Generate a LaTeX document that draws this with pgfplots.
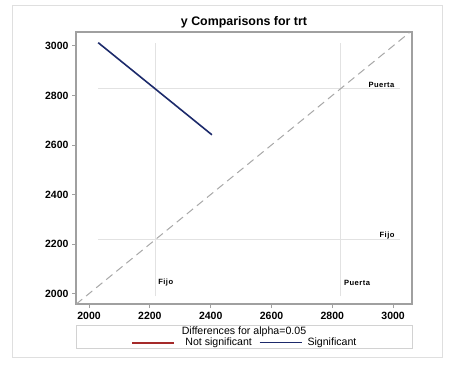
\documentclass[border=0pt]{standalone}
\usepackage{pgfplots}
\pgfplotsset{compat=1.18}
\usepackage{fontspec}
\setmainfont{Liberation Sans}
\definecolor{sigblue}{HTML}{1C2A6B}
\definecolor{nsred}{HTML}{A52A2A}
\definecolor{refgray}{HTML}{E2E2E2}
\definecolor{diaggray}{HTML}{A8A8A8}
\definecolor{framegray}{HTML}{A0A0A0}
\newcommand{\lblfont}{\bfseries\fontsize{7.6}{9}\selectfont\addfontfeatures{LetterSpace=6}}
\begin{document}
\begin{tikzpicture}[x=1pt,y=1pt]
\path[fill=white] (0,0) rectangle (450,365);
\draw[color=gray!25, line width=1pt] (12,8) rectangle (442,359);
\begin{axis}[
  at={(76pt,61pt)}, anchor=south west,
  width=336pt, height=272pt, scale only axis,
  xmin=1957, xmax=3062, ymin=1958, ymax=3056,
  xtick={2000,2200,...,3000}, ytick={2000,2200,...,3000},
  tick align=outside, major tick length=4pt,
  tick style={framegray, line width=0.8pt},
  axis line style={framegray, line width=1.4pt},
  xtick pos=bottom, ytick pos=left,
  /pgf/number format/.cd, 1000 sep={}, assume math mode=true,
  /pgfplots/.cd,
  tick label style={font=\bfseries\fontsize{10.5}{12}\selectfont},
  xticklabel style={yshift=-1pt},
  clip=false,
  legend style={at={(0.5,-0.142)}, anchor=center, draw=none, fill=none,
    legend columns=2, font=\fontsize{10.6}{12}\selectfont,
    /tikz/column 1/.style={column sep=5pt},
    /tikz/column 2/.style={column sep=7pt},
    /tikz/column 3/.style={column sep=5pt},
    nodes={inner xsep=0pt, inner ysep=0pt}},
  legend image code/.code={\draw[#1] (0pt,0pt) -- (42pt,0pt);},
]
% reference lines
\addplot[refgray, line width=0.8pt, forget plot] coordinates {(2217,1990) (2217,3012)};
\addplot[refgray, line width=0.8pt, forget plot] coordinates {(2828,1990) (2828,3012)};
\addplot[refgray, line width=0.8pt, forget plot] coordinates {(2030,2828) (3023,2828)};
\addplot[refgray, line width=0.8pt, forget plot] coordinates {(2030,2217) (3023,2217)};
% diagonal
\addplot[diaggray, line width=1pt, dash pattern=on 8pt off 5pt, forget plot] coordinates {(1957,1957) (3056,3056)};
\addlegendimage{nsred, line width=1.8pt}
\addlegendentry{\hspace{5pt}Not significant}
\addplot[sigblue, line width=1.6pt] coordinates {(2030,3013) (2404,2641)};
\addlegendentry{Significant}
% labels
\node[font=\lblfont, anchor=east, inner sep=0pt] at (axis cs:3005,2843) {Puerta};
\node[font=\lblfont, anchor=east, inner sep=0pt] at (axis cs:3005,2233) {Fijo};
\node[font=\lblfont, anchor=west, inner sep=0pt] at (axis cs:2227,2043) {Fijo};
\node[font=\lblfont, anchor=west, inner sep=0pt] at (axis cs:2838,2043) {Puerta};
% title
\node[font=\bfseries\fontsize{12.4}{14}\selectfont, anchor=base] at (rel axis cs:0.5,1) [yshift=7pt] {y Comparisons for trt};
% legend box and title
\draw[gray!35, line width=0.8pt] (rel axis cs:0,-0.077) rectangle (rel axis cs:1,-0.165);
\node[font=\fontsize{10.6}{12}\selectfont] at (rel axis cs:0.5,-0.101) {Differences for alpha=0.05};
\end{axis}
\end{tikzpicture}
\end{document}
